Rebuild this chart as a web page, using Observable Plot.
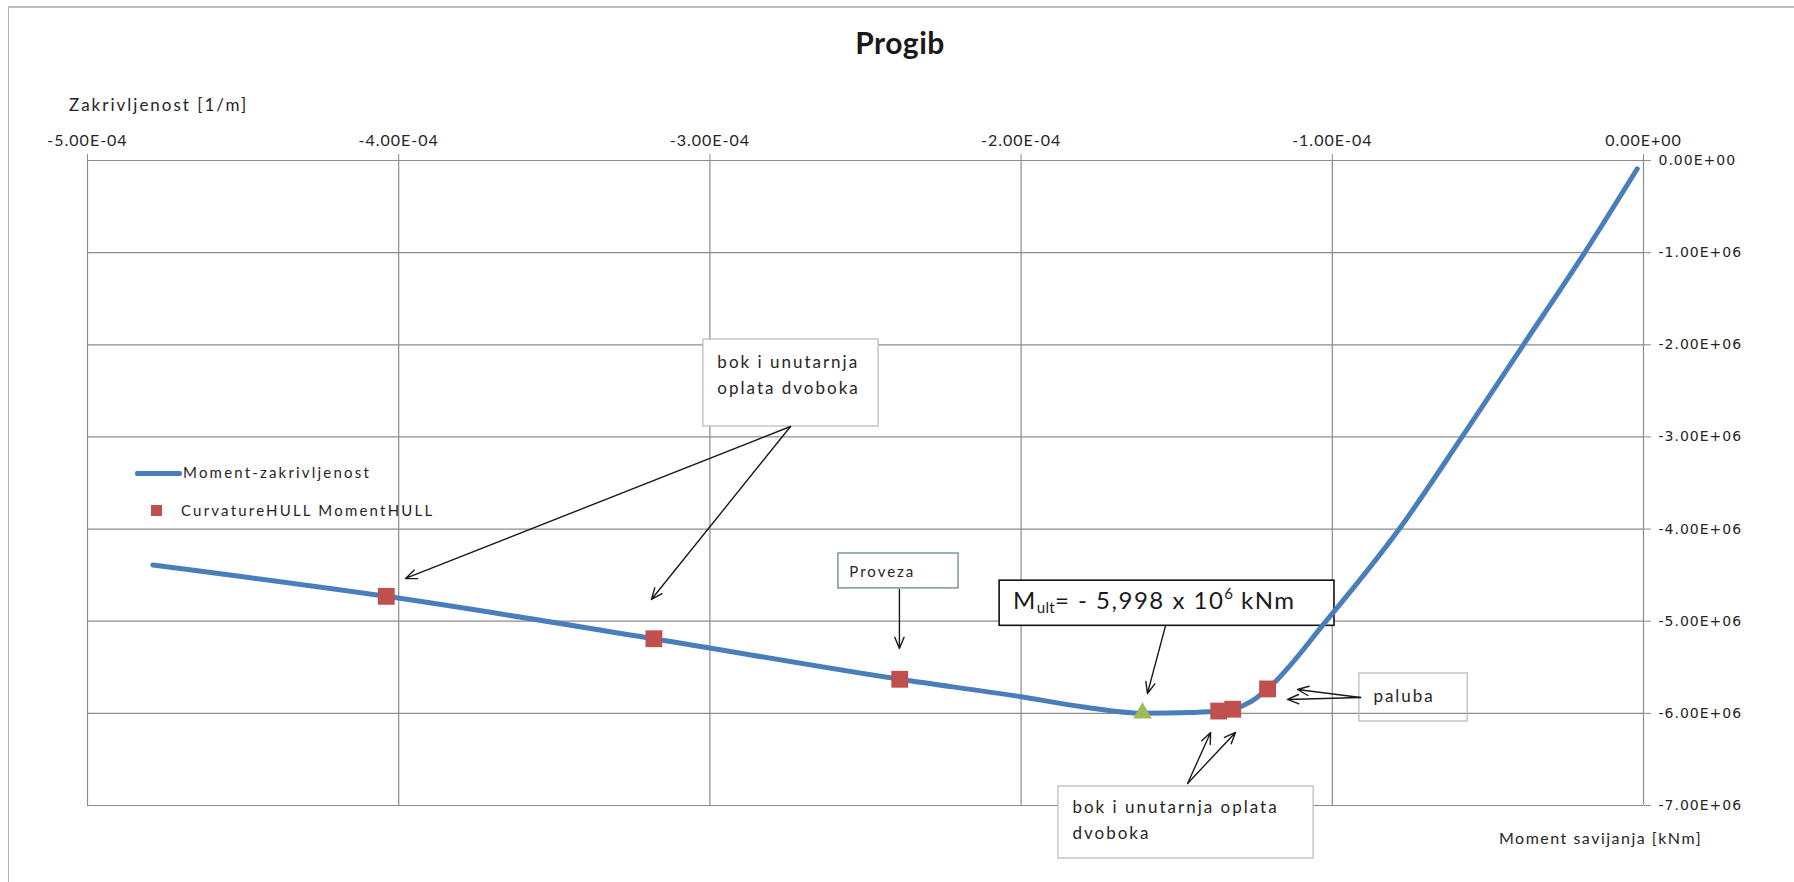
<!DOCTYPE html>
<html>
<head>
<meta charset="utf-8">
<script src="https://cdn.jsdelivr.net/npm/d3@7"></script>
<script src="https://cdn.jsdelivr.net/npm/@observablehq/plot@0.6"></script>
<style>
html,body{margin:0;padding:0;background:#fff}
#wrap{position:relative;width:1794px;height:882px;overflow:hidden;background:#fff}
#frame{position:absolute;left:8px;top:6px;width:1800px;height:900px;border-left:1.5px solid #b4b4b4;border-top:2px solid #bcbcbc}
#chart{position:absolute;left:0;top:0}
.t{position:absolute;white-space:nowrap;font-family:Lato,"Open Sans",sans-serif;color:#262626;line-height:1}
#title{left:900px;top:27px;font-size:30px;font-weight:700;transform:translateX(-50%);letter-spacing:.5px;color:#1a1a1a}
#xlab{left:69px;top:96px;font-size:17px;letter-spacing:2px}
#ylab{left:1499px;top:830px;font-size:16px;letter-spacing:1.5px}
.lg{font-size:15px;letter-spacing:2.2px}
#lg1{left:183px;top:465px}
#lg2{left:181px;top:503px}
#lgline{position:absolute;left:135px;top:470.5px;width:47px;height:5px;background:#4a7ebb;border-radius:2px}
#lgsq{position:absolute;left:151px;top:505px;width:11px;height:11px;background:#c0504d}
g[aria-label^="x-axis"] text{font-family:Lato,sans-serif;font-size:16px;letter-spacing:1px;fill:#262626}
g[aria-label^="y-axis"] text{font-family:"DejaVu Sans",sans-serif;font-size:14px;letter-spacing:1px;fill:#262626}
g[aria-label^="x-axis"],g[aria-label^="y-axis"]{color:#8c8c8c}
</style>
</head>
<body>
<div id="wrap">
  <div id="frame"></div>
  <div id="chart"></div>
  <div class="t" id="title">Progib</div>
  <div class="t" id="xlab">Zakrivljenost [1/m]</div>
  <div class="t" id="ylab">Moment savijanja [kNm]</div>
  <div id="lgline"></div>
  <div class="t lg" id="lg1">Moment-zakrivljenost</div>
  <div id="lgsq"></div>
  <div class="t lg" id="lg2">CurvatureHULL MomentHULL</div>
</div>
<script>
// ---- axis ticks ----
const xTicks = [-5e-4, -4e-4, -3e-4, -2e-4, -1e-4, 0];
const xTickLabels = ["-5.00E-04", "-4.00E-04", "-3.00E-04", "-2.00E-04", "-1.00E-04", "0.00E+00"];
const yTicks = [0, -1e6, -2e6, -3e6, -4e6, -5e6, -6e6, -7e6];
const yTickLabels = ["0.00E+00", "-1.00E+06", "-2.00E+06", "-3.00E+06", "-4.00E+06", "-5.00E+06", "-6.00E+06", "-7.00E+06"];

// ---- Moment-zakrivljenost curve ----
const curvature = [-4.79e-4, -4.04e-4, -3.18e-4, -2.39e-4, -2.00e-4, -1.80e-4, -1.61e-4, -1.45e-4, -1.365e-4, -1.32e-4, -1.26e-4, -1.208e-4, -1.02e-4, -0.785e-4, -0.583e-4, -0.386e-4, -0.189e-4, -0.02e-4];
const moment = [-4.39e6, -4.73e6, -5.19e6, -5.63e6, -5.82e6, -5.93e6, -5.998e6, -5.99e6, -5.975e6, -5.955e6, -5.87e6, -5.735e6, -5.00e6, -4.00e6, -3.00e6, -2.00e6, -1.00e6, -0.09e6];

// ---- CurvatureHULL / MomentHULL points ----
const hullCurvature = [-4.04e-4, -3.18e-4, -2.39e-4, -1.365e-4, -1.32e-4, -1.208e-4];
const hullMoment = [-4.73e6, -5.19e6, -5.63e6, -5.975e6, -5.955e6, -5.735e6];

// ---- ultimate moment point ----
const ultCurvature = [-1.61e-4];
const ultMoment = [-5.998e6];

// ---- annotation boxes (data units) ----
const boxId = ["bok1", "proveza", "ult", "paluba", "bok2"];
const boxX1 = [-3.021e-4, -2.587e-4, -2.069e-4, -0.913e-4, -1.880e-4];
const boxX2 = [-2.458e-4, -2.201e-4, -0.993e-4, -0.565e-4, -1.060e-4];
const boxY1 = [-1.943e6, -4.265e6, -4.56e6, -5.567e6, -6.794e6];
const boxY2 = [-2.887e6, -4.644e6, -5.05e6, -6.088e6, -7.575e6];

// ---- annotation texts ----
const noteText = ["bok i unutarnja", "oplata dvoboka", "Proveza", "paluba", "bok i unutarnja oplata", "dvoboka"];
const noteX = [-2.976e-4, -2.976e-4, -2.552e-4, -0.868e-4, -1.835e-4, -1.835e-4];
const noteY = [-2.192e6, -2.474e6, -4.470e6, -5.816e6, -7.022e6, -7.303e6];

// ---- M_ult label ----
const ultLabelParts = ["M", "ult", "= - 5,998 x 10", "6", " kNm"];
const ultLabelKinds = ["base", "sub", "base", "sup", "base"];
const ultLabelX = -2.0244e-4;
const ultLabelY = -4.87e6;

// ---- arrows ----
const arrowX1 = [-2.741e-4, -2.741e-4, -2.391e-4, -1.536e-4, -0.909e-4, -0.909e-4, -1.465e-4, -1.465e-4];
const arrowY1 = [-2.887e6, -2.887e6, -4.655e6, -5.05e6, -5.828e6, -5.828e6, -6.761e6, -6.761e6];
const arrowX2 = [-3.978e-4, -3.188e-4, -2.391e-4, -1.594e-4, -1.144e-4, -1.112e-4, -1.391e-4, -1.311e-4];
const arrowY2 = [-4.536e6, -4.764e6, -5.296e6, -5.784e6, -5.849e6, -5.741e6, -6.207e6, -6.207e6];

// ---- tables built from the arrays ----
const curve = curvature.map((c, i) => ({c, m: moment[i]}));
const hull = hullCurvature.map((c, i) => ({c, m: hullMoment[i]}));
const ult = ultCurvature.map((c, i) => ({c, m: ultMoment[i]}));
const boxes = boxId.map((id, i) => ({id, x1: boxX1[i], x2: boxX2[i], y1: boxY1[i], y2: boxY2[i]}));
const notes = noteText.map((text, i) => ({text, x: noteX[i], y: noteY[i]}));
const arrows = arrowX1.map((x1, i) => ({x1, y1: arrowY1[i], x2: arrowX2[i], y2: arrowY2[i]}));

const fmtX = d => xTickLabels[xTicks.findIndex(t => Math.abs(t - d) < 1e-12)];
const fmtY = d => yTickLabels[yTicks.findIndex(t => Math.abs(t - d) < 1)];

function ultLabel(index, scales) {
  const sx = scales.x, sy = scales.y;
  const g = d3.create("svg:g").attr("aria-label", "ult-label");
  const t = g.append("text")
    .attr("x", sx(ultLabelX)).attr("y", sy(ultLabelY))
    .attr("text-anchor", "start")
    .attr("font-family", "Lato, sans-serif").attr("font-size", 24)
    .attr("fill", "#1a1a1a").style("letter-spacing", "1.5px");
  let shift = 0;
  ultLabelParts.forEach((p, i) => {
    const kind = ultLabelKinds[i];
    const target = kind === "sub" ? 4 : kind === "sup" ? -10 : 0;
    t.append("tspan")
      .attr("dy", target - shift)
      .attr("font-size", kind === "base" ? 24 : 15)
      .style("letter-spacing", kind === "base" ? "1.5px" : "0.3px")
      .text(p);
    shift = target;
  });
  return g.node();
}

const boxStroke = d => d.id === "ult" ? "#111" : d.id === "proveza" ? "#5b7d8c" : "#b8b8b8";

const plot = Plot.plot({
  width: 1794, height: 882,
  marginLeft: 87, marginRight: 151, marginTop: 160, marginBottom: 77,
  style: {background: "transparent", overflow: "visible", fontFamily: "Lato, sans-serif"},
  x: {domain: [-5e-4, 0], axis: "top", ticks: xTicks, tickFormat: fmtX, tickSize: 7, tickPadding: 8, label: null},
  y: {domain: [-7e6, 0], axis: "right", ticks: yTicks, tickFormat: fmtY, tickSize: 7, tickPadding: 8, label: null},
  marks: [
    Plot.ruleX(xTicks, {stroke: "#8c8c8c", strokeWidth: 1.2}),
    Plot.ruleY(yTicks, {stroke: "#8c8c8c", strokeWidth: 1.2}),
    Plot.rect(boxes, {x1: "x1", x2: "x2", y1: "y1", y2: "y2",
      fill: d => d.id === "paluba" ? "none" : "#ffffff",
      stroke: boxStroke, strokeWidth: d => d.id === "ult" ? 1.6 : 1.2}),
    Plot.text(notes, {x: "x", y: "y", text: "text", textAnchor: "start", lineAnchor: "middle",
      fontFamily: "Lato, sans-serif", fontSize: d => d.text === "Proveza" ? 15 : 17, fill: "#262626"}),
    ultLabel,
    Plot.arrow(arrows, {x1: "x1", y1: "y1", x2: "x2", y2: "y2", stroke: "#1a1a1a",
      strokeWidth: 1.4, headLength: 13, headAngle: 45}),
    Plot.line(curve, {x: "c", y: "m", stroke: "#4a7ebb", strokeWidth: 5, curve: "monotone-x"}),
    Plot.dot(hull, {x: "c", y: "m", symbol: "square", r: 9.5, fill: "#c0504d", stroke: "none"}),
    Plot.dot(ult, {x: "c", y: "m", symbol: "triangle", r: 7, fill: "#9bbb59", stroke: "none"})
  ]
});
// letter spacing of the annotation texts (Excel-like wide rendering)
d3.select(plot).selectAll('g[aria-label="text"] text').style("letter-spacing", "2px");
document.getElementById("chart").appendChild(plot);
</script>
</body>
</html>
